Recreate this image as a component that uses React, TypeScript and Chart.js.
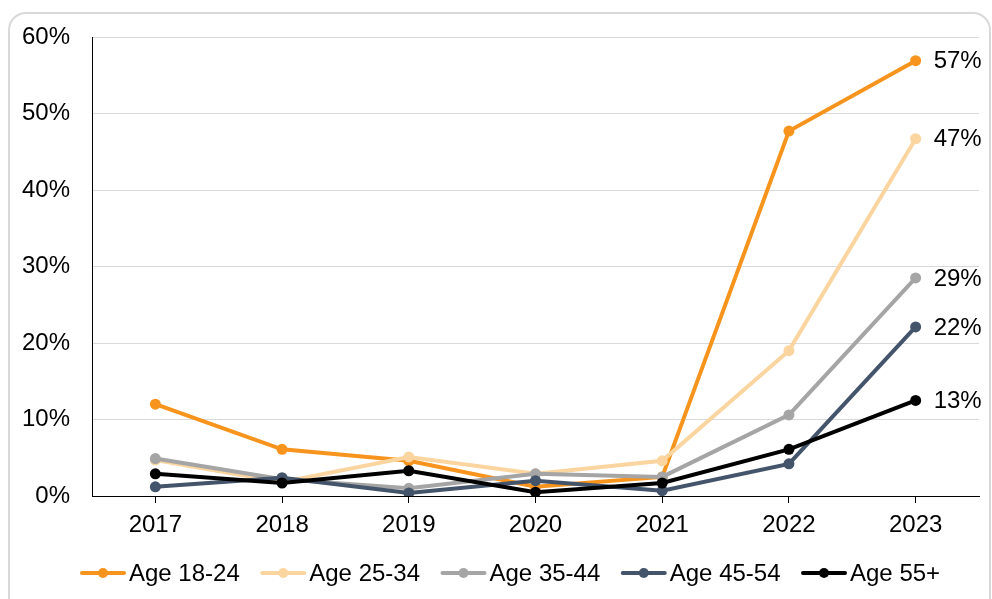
import React, { useEffect, useRef } from "react";
import { Chart, registerables } from "chart.js";

Chart.register(...registerables);

const years = ["2017", "2018", "2019", "2020", "2021", "2022", "2023"];
const seriesNames = ["Age 18-24", "Age 25-34", "Age 35-44", "Age 45-54", "Age 55+"];
const age1824 = [12.0, 6.1, 4.6, 1.2, 2.5, 47.7, 56.9];
const age2534 = [4.7, 1.8, 5.1, 2.9, 4.6, 19.0, 46.7];
const age3544 = [4.9, 2.2, 1.0, 2.9, 2.5, 10.6, 28.5];
const age4554 = [1.2, 2.4, 0.4, 2.0, 0.7, 4.2, 22.1];
const age55 = [2.9, 1.7, 3.3, 0.5, 1.7, 6.1, 12.5];
const endLabels = ["57%", "47%", "29%", "22%", "13%"];
const colors = ["#F7941D", "#FBD5A0", "#A5A5A5", "#44546A", "#000000"];
const yTicks = [0, 10, 20, 30, 40, 50, 60];

const FONT = "'Liberation Sans', Arial, sans-serif";
const FS = 24;

export default function App() {
  const ref = useRef<HTMLCanvasElement | null>(null);

  useEffect(() => {
    if (!ref.current) return;
    const values = [age1824, age2534, age3544, age4554, age55];

    const endLabelPlugin = {
      id: "endLabels",
      afterDatasetsDraw(chart: any) {
        const ctx = chart.ctx;
        ctx.save();
        ctx.font = `${FS}px ${FONT}`;
        ctx.fillStyle = "#000";
        ctx.textAlign = "left";
        ctx.textBaseline = "middle";
        chart.data.datasets.forEach((_: any, i: number) => {
          const meta = chart.getDatasetMeta(i);
          const pt = meta.data[meta.data.length - 1];
          ctx.fillText(endLabels[i], pt.x + 18, pt.y + 1);
        });
        ctx.restore();
      },
    };

    const legendPlugin = {
      id: "customLegend",
      afterDraw(chart: any) {
        const ctx = chart.ctx;
        ctx.save();
        ctx.font = `${FS}px ${FONT}`;
        const lineW = 46;
        const gapAfterLine = 3;
        const gap = 20.5;
        const widths = seriesNames.map((n) => ctx.measureText(n).width);
        let x = 80;
        const y = 573;
        seriesNames.forEach((n, i) => {
          ctx.strokeStyle = colors[i];
          ctx.lineWidth = 4;
          ctx.lineCap = "round";
          ctx.beginPath();
          ctx.moveTo(x + 2, y);
          ctx.lineTo(x + lineW - 2, y);
          ctx.stroke();
          ctx.fillStyle = colors[i];
          ctx.beginPath();
          ctx.arc(x + lineW / 2, y, 5, 0, Math.PI * 2);
          ctx.fill();
          ctx.fillStyle = "#000";
          ctx.textAlign = "left";
          ctx.textBaseline = "middle";
          ctx.fillText(n, x + lineW + gapAfterLine, y + 1);
          x += lineW + gapAfterLine + widths[i] + gap;
        });
        ctx.restore();
      },
    };

    const chart = new Chart(ref.current, {
      type: "line",
      data: {
        labels: years,
        datasets: values.map((v, i) => ({
          label: seriesNames[i],
          data: v,
          borderColor: colors[i],
          backgroundColor: colors[i],
          borderWidth: 4,
          pointRadius: 5.5,
          pointHoverRadius: 5.5,
          pointBackgroundColor: colors[i],
          pointBorderWidth: 0,
          tension: 0,
          order: values.length - 1 - i,
        })),
      },
      options: {
        animation: false,
        responsive: false,
        maintainAspectRatio: false,
        layout: { padding: { left: 0, top: 37, right: 13, bottom: 63 } },
        plugins: {
          legend: { display: false },
          tooltip: { enabled: false },
        },
        scales: {
          x: {
            offset: true,
            afterFit(scale: any) {
              scale.height = 40;
            },
            grid: {
              offset: false,
              drawOnChartArea: false,
              drawTicks: true,
              tickLength: 7,
              color: "#000",
            },
            border: { display: true, color: "#000", width: 1 },
            ticks: {
              color: "#000",
              font: { family: FONT, size: FS },
              padding: 8,
              maxRotation: 0,
            },
          },
          y: {
            min: 0,
            max: 60,
            afterFit(scale: any) {
              scale.width = 92;
            },
            afterBuildTicks(scale: any) {
              scale.ticks = yTicks.map((v) => ({ value: v }));
            },
            grid: {
              color: (c: any) => (c.tick && c.tick.value === 0 ? "rgba(0,0,0,0)" : "#D9D9D9"),
              lineWidth: 1,
              drawTicks: false,
            },
            border: { display: true, color: "#000", width: 1 },
            ticks: {
              color: "#000",
              font: { family: FONT, size: FS },
              padding: 22,
              callback: (v: any) => `${v}%`,
            },
          },
        },
      },
      plugins: [endLabelPlugin, legendPlugin],
    });
    return () => chart.destroy();
  }, []);

  return (
    <div style={{ position: "fixed", left: 0, top: 0, width: 992, height: 599, background: "#fff", overflow: "hidden" }}>
      <div
        style={{
          position: "absolute",
          left: 8,
          top: 12,
          width: 983,
          height: 640,
          border: "2px solid #D9D9D9",
          borderRadius: 18,
          boxSizing: "border-box",
        }}
      />
      <canvas ref={ref} width={992} height={599} style={{ position: "absolute", left: 0, top: 0, width: 992, height: 599 }} />
    </div>
  );
}
